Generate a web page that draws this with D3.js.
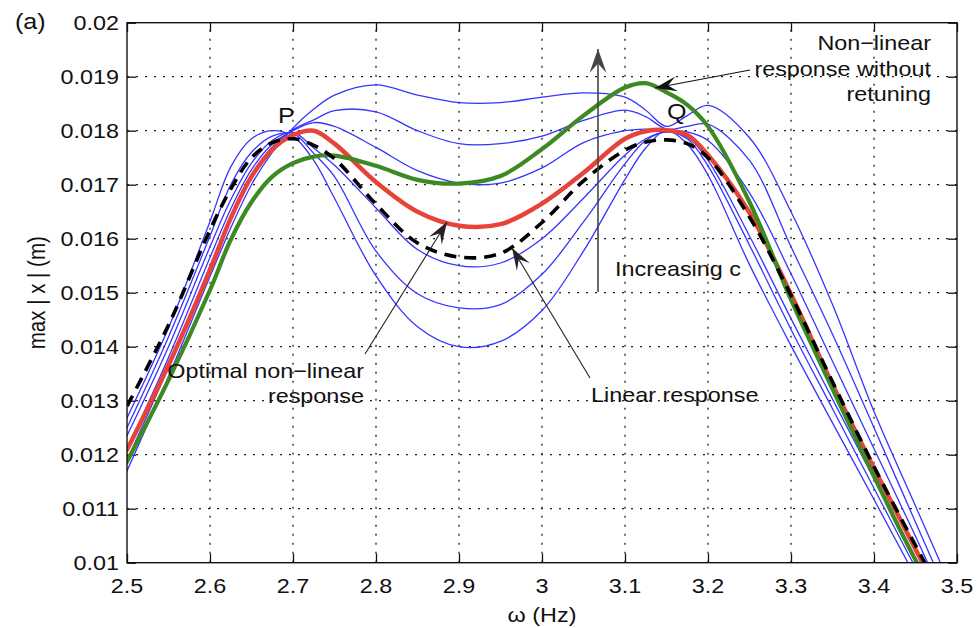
<!DOCTYPE html>
<html>
<head>
<meta charset="utf-8">
<script src="https://cdn.jsdelivr.net/npm/d3@7"></script>
<style>
  body { margin: 0; background: #fff; }
  svg { display: block; }
  text { font-family: "Liberation Sans", Arial, Helvetica, sans-serif; fill: #111; }
</style>
</head>
<body>
<svg id="chart" width="978" height="628"></svg>
<script>
// Frequency grid (Hz) shared by all response curves
const omega = [2.5, 2.55, 2.6, 2.625, 2.65, 2.675, 2.7, 2.725, 2.75, 2.8, 2.85, 2.9, 2.95,
               3.0, 3.05, 3.1, 3.125, 3.15, 3.175, 3.2, 3.25, 3.3, 3.35, 3.4, 3.45, 3.5];

// Peak displacement max|x| (m) for increasing non-linear stiffness c (c1 lowest .. c6 highest)
const c1 = [0.01268, 0.01435, 0.01632, 0.01733, 0.01785, 0.01800, 0.01790, 0.01745, 0.01675, 0.01531, 0.01437, 0.01400, 0.01410,
            0.01467, 0.01577, 0.01710, 0.01768, 0.01800, 0.01775, 0.01718, 0.01552, 0.01402, 0.01259, 0.01117, 0.00974, 0.00830];
const c2 = [0.01250, 0.01418, 0.01605, 0.01700, 0.01760, 0.01790, 0.01795, 0.01758, 0.01715, 0.01577, 0.01498, 0.01472, 0.01478,
            0.01534, 0.01631, 0.01739, 0.01782, 0.01798, 0.01785, 0.01735, 0.01588, 0.01432, 0.01285, 0.01138, 0.00991, 0.00850];
const c3 = [0.01235, 0.01400, 0.01585, 0.01672, 0.01740, 0.01782, 0.01797, 0.01768, 0.01736, 0.01657, 0.01580, 0.01550, 0.01555,
            0.01600, 0.01675, 0.01755, 0.01785, 0.01798, 0.01788, 0.01745, 0.01605, 0.01452, 0.01303, 0.01155, 0.01006, 0.00860];
const c4 = [0.01210, 0.01380, 0.01565, 0.01655, 0.01728, 0.01775, 0.01800, 0.01815, 0.01808, 0.01769, 0.01726, 0.01703, 0.01703,
            0.01731, 0.01778, 0.01800, 0.01803, 0.01800, 0.01798, 0.01782, 0.01685, 0.01535, 0.01373, 0.01211, 0.01049, 0.00880];
const c5 = [0.01190, 0.01362, 0.01550, 0.01642, 0.01718, 0.01770, 0.01802, 0.01820, 0.01837, 0.01835, 0.01800, 0.01776, 0.01776,
            0.01790, 0.01819, 0.01838, 0.01826, 0.01803, 0.01808, 0.01812, 0.01745, 0.01585, 0.01423, 0.01250, 0.01075, 0.00900];
const c6 = [0.01170, 0.01345, 0.01530, 0.01620, 0.01700, 0.01760, 0.01805, 0.01840, 0.01866, 0.01885, 0.01866, 0.01852, 0.01852,
            0.01862, 0.01870, 0.01862, 0.01838, 0.01808, 0.01828, 0.01847, 0.01787, 0.01650, 0.01478, 0.01280, 0.01105, 0.00930];

// Linear absorber response
const linear = [0.01290, 0.01440, 0.01616, 0.01692, 0.01750, 0.01778, 0.01785, 0.01773, 0.01748, 0.01664, 0.01592, 0.01566, 0.01573,
                0.01630, 0.01707, 0.01764, 0.01779, 0.01783, 0.01776, 0.01750, 0.01640, 0.01495, 0.01335, 0.01178, 0.01032, 0.00890];
// Optimal non-linear response
const optimal = [0.01209, 0.01366, 0.01542, 0.01638, 0.01715, 0.01765, 0.01792, 0.01800, 0.01776, 0.01705, 0.01650, 0.01624, 0.01627,
                 0.01665, 0.01722, 0.01785, 0.01799, 0.01801, 0.01792, 0.01755, 0.01648, 0.01497, 0.01330, 0.01175, 0.01025, 0.00880];
// Non-linear response without retuning
const noRetune = [0.01187, 0.01338, 0.01505, 0.01598, 0.01668, 0.01715, 0.01740, 0.01752, 0.01754, 0.01735, 0.01709, 0.01702, 0.01716,
                  0.01766, 0.01828, 0.01880, 0.01888, 0.01871, 0.01848, 0.01808, 0.01668, 0.01487, 0.01322, 0.01160, 0.01005, 0.00870];

// Axis ticks and labels
const xTicks = [2.5, 2.6, 2.7, 2.8, 2.9, 3.0, 3.1, 3.2, 3.3, 3.4, 3.5];
const xTickLabels = ["2.5", "2.6", "2.7", "2.8", "2.9", "3", "3.1", "3.2", "3.3", "3.4", "3.5"];
const yTicks = [0.010, 0.011, 0.012, 0.013, 0.014, 0.015, 0.016, 0.017, 0.018, 0.019, 0.020];
const yTickLabels = ["0.01", "0.011", "0.012", "0.013", "0.014", "0.015", "0.016", "0.017", "0.018", "0.019", "0.02"];

const svg = d3.select("#chart");
const L = 127, R = 957, T = 22.7, B = 562.7;
const x = d3.scaleLinear().domain([2.5, 3.5]).range([L, R]);
const y = d3.scaleLinear().domain([0.01, 0.02]).range([B, T]);
const FS = 20.5, SX = 1.14;   // label font size and horizontal stretch

// clip region for curves
svg.append("defs").append("clipPath").attr("id", "plotClip")
  .append("rect").attr("x", L).attr("y", T).attr("width", R - L).attr("height", B - T);

// dotted grid
const grid = svg.append("g").attr("stroke", "#222").attr("stroke-width", 1.3).attr("stroke-dasharray", "2,7");
xTicks.slice(1, -1).forEach(t => grid.append("line").attr("x1", x(t)).attr("x2", x(t)).attr("y1", B).attr("y2", T));
yTicks.slice(1, -1).forEach(t => grid.append("line").attr("y1", y(t)).attr("y2", y(t)).attr("x1", L).attr("x2", R));

// inward ticks on all four sides
const tl = 9;
const ax = [
  d3.axisBottom(x).tickValues(xTicks).tickSizeInner(-tl).tickSizeOuter(0).tickFormat(""),
  d3.axisTop(x).tickValues(xTicks).tickSizeInner(-tl).tickSizeOuter(0).tickFormat(""),
  d3.axisLeft(y).tickValues(yTicks).tickSizeInner(-tl).tickSizeOuter(0).tickFormat(""),
  d3.axisRight(y).tickValues(yTicks).tickSizeInner(-tl).tickSizeOuter(0).tickFormat("")
];
const pos = [`translate(0,${B})`, `translate(0,${T})`, `translate(${L},0)`, `translate(${R},0)`];
ax.forEach((a, i) => {
  const g = svg.append("g").attr("transform", pos[i]).call(a);
  g.select(".domain").remove();
  g.selectAll("line").attr("stroke", "#111").attr("stroke-width", 1.3);
});

// curves
const line = d3.line().x((d, i) => x(omega[i])).y(d => y(d)).curve(d3.curveCatmullRom.alpha(0.5));
const curves = svg.append("g").attr("clip-path", "url(#plotClip)").attr("fill", "none")
  .attr("stroke-linejoin", "round").attr("stroke-linecap", "round");
[c1, c2, c3, c4, c5, c6].forEach(s => curves.append("path").attr("d", line(s))
  .attr("stroke", "#3535ff").attr("stroke-width", 1.3));
curves.append("path").attr("d", line(optimal)).attr("stroke", "#e8433a").attr("stroke-width", 4.5);
curves.append("path").attr("d", line(noRetune)).attr("stroke", "#3d8a24").attr("stroke-width", 4.2);
curves.append("path").attr("d", line(linear)).attr("stroke", "#000").attr("stroke-width", 3.6)
  .attr("stroke-linecap", "butt").attr("stroke-dasharray", "12,8");

// axes box
svg.append("rect").attr("x", L).attr("y", T).attr("width", R - L).attr("height", B - T)
  .attr("fill", "none").attr("stroke", "#111").attr("stroke-width", 1.4);

// stretched text helper
function label(px, py, str, anchor, size) {
  return svg.append("text")
    .attr("transform", `translate(${px},${py}) scale(${SX},1)`)
    .attr("text-anchor", anchor || "start")
    .attr("font-size", size || FS)
    .text(str);
}

// tick labels
xTicks.forEach((t, i) => label(x(t), B + 30, xTickLabels[i], "middle"));
yTicks.forEach((t, i) => label(L - 8, y(t) + 7.3, yTickLabels[i], "end"));

// axis titles
label((L + R) / 2, 622, "ω (Hz)", "middle");
svg.append("text").attr("transform", `translate(45,${(T + B) / 2}) rotate(-90) scale(1,${SX})`)
  .attr("text-anchor", "middle").attr("font-size", FS).text("max | x | (m)");
label(15, 29, "(a)", "start", 22);

// point markers
label(278, 123, "P", "start", 22);
label(667, 119, "Q", "start", 22);

// annotations
label(931, 50, "Non\u2212linear", "end");
label(931, 76, "response without", "end");
label(931, 101, "retuning", "end");
label(615, 276, "Increasing c", "start");
label(364, 378, "Optimal non\u2212linear", "end");
label(364, 403, "response", "end");
label(591, 402, "Linear response", "start");

// arrows with concave heads
function arrow(x1, y1, x2, y2, color, width, hl, hw) {
  svg.append("line").attr("x1", x1).attr("y1", y1).attr("x2", x2).attr("y2", y2)
    .attr("stroke", color).attr("stroke-width", width);
  const a = Math.atan2(y2 - y1, x2 - x1);
  const ca = Math.cos(a), sa = Math.sin(a);
  const p = (u, v) => [x2 + u * ca - v * sa, y2 + u * sa + v * ca];
  const pts = [p(0, 0), p(-hl, hw / 2), p(-hl * 0.6, 0), p(-hl, -hw / 2)];
  svg.append("path").attr("d", "M" + pts.map(q => q.join(",")).join("L") + "Z").attr("fill", color);
}
arrow(750, 70, 655, 88, "#111", 1.1, 22, 15);
arrow(598, 292, 598, 49, "#444", 1.6, 24, 17);
arrow(365, 354, 447, 222, "#222", 1.1, 22, 15);
arrow(590, 378, 512, 248, "#222", 1.1, 22, 15);
</script>
</body>
</html>
